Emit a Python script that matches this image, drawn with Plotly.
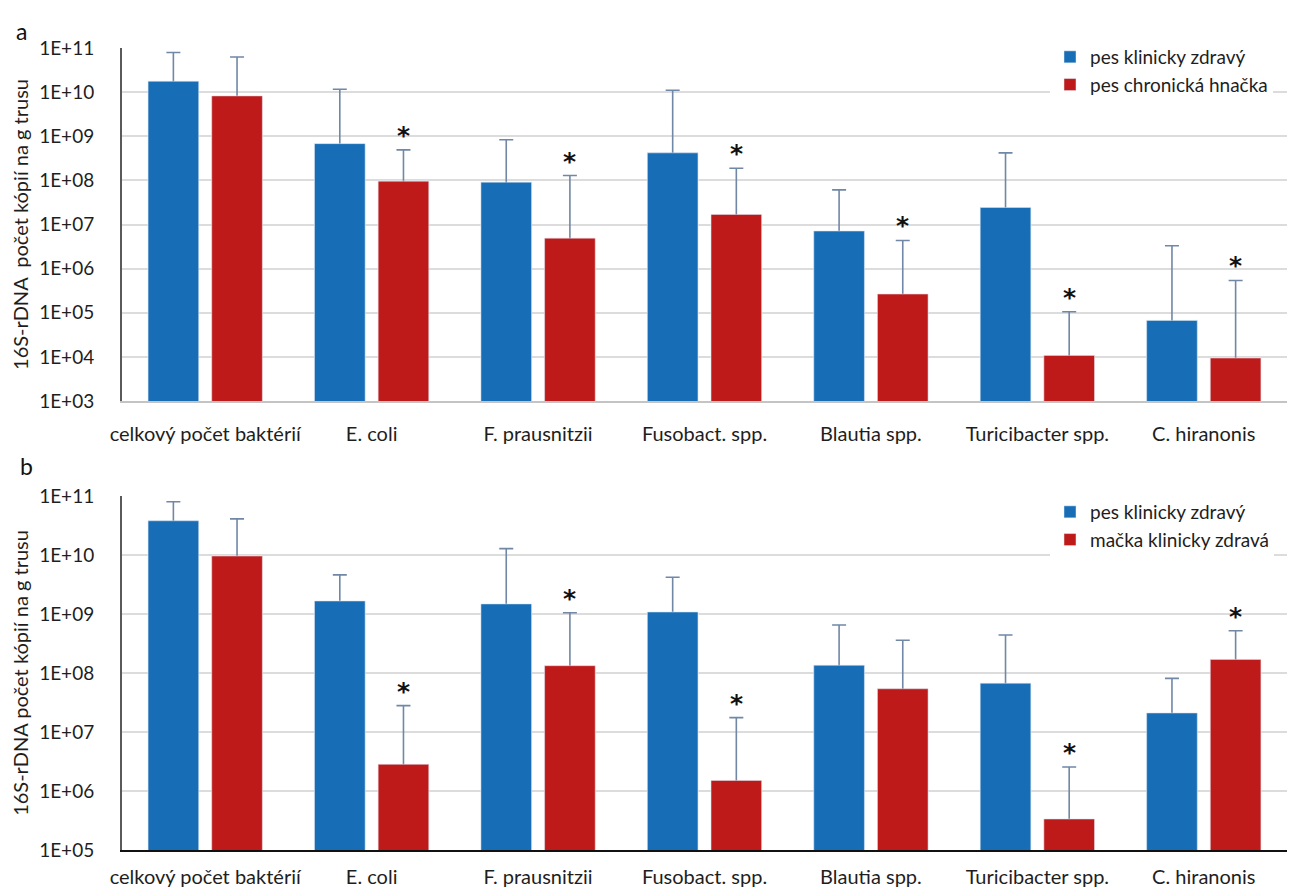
import plotly.graph_objects as go
import numpy as np

categories = ["celkový počet baktérií", "E. coli", "F. prausnitzii", "Fusobact. spp.",
              "Blautia spp.", "Turicibacter spp.", "C. hiranonis"]

# Panel a
a_dog_healthy = [1.76e10, 6.8e8, 9.1e7, 4.2e8, 7.1e6, 2.43e7, 6.7e4]
a_dog_healthy_errtop = [7.9e10, 1.16e10, 8.3e8, 1.1e10, 6.1e7, 4.2e8, 3.3e6]
a_dog_diarrhea = [8.2e9, 9.6e7, 4.9e6, 1.69e7, 2.65e5, 1.08e4, 9.4e3]
a_dog_diarrhea_errtop = [6.25e10, 4.9e8, 1.29e8, 1.89e8, 4.35e6, 1.05e5, 5.4e5]
a_significant = [False, True, True, True, True, True, True]

# Panel b
b_dog_healthy = [3.8e10, 1.66e9, 1.48e9, 1.08e9, 1.35e8, 6.7e7, 2.1e7]
b_dog_healthy_errtop = [8.0e10, 4.6e9, 1.28e10, 4.2e9, 6.5e8, 4.4e8, 8.1e7]
b_cat_healthy = [9.6e9, 2.83e6, 1.33e8, 1.51e6, 5.4e7, 3.35e5, 1.7e8]
b_cat_healthy_errtop = [4.1e10, 2.8e7, 1.05e9, 1.75e7, 3.6e8, 2.55e6, 5.2e8]
b_significant = [False, True, True, True, False, True, True]

a_ticks = [1e3, 1e4, 1e5, 1e6, 1e7, 1e8, 1e9, 1e10, 1e11]
b_ticks = [1e5, 1e6, 1e7, 1e8, 1e9, 1e10, 1e11]

a_ytitle = "16S-rDNA  počet kópií na g trusu"
b_ytitle = "16S-rDNA počet kópií na g trusu"

BLUE = "#176db6"
RED = "#be1a1a"
ERR = "#7088a6"
FONT = "Lato"
TXT = "#1e1e1e"
BARGAP = 0.235

def tick_text(vals):
    return ["1E+%02d" % int(round(np.log10(v))) for v in vals]

def err(vals, tops):
    # upward error bar; the lower "shoe" sits just inside the bar and is hidden by it
    return dict(type="data", symmetric=False,
                array=[t - v for v, t in zip(vals, tops)],
                arrayminus=[v * 0.12 for v in vals],
                color=ERR, thickness=1.6, width=7)

fig = go.Figure()

series = [
    (a_dog_healthy, a_dog_healthy_errtop, "pes klinicky zdravý", BLUE, "x", "y", "x3", "y3", "legend"),
    (a_dog_diarrhea, a_dog_diarrhea_errtop, "pes chronická hnačka", RED, "x", "y", "x3", "y3", "legend"),
    (b_dog_healthy, b_dog_healthy_errtop, "pes klinicky zdravý", BLUE, "x2", "y2", "x4", "y4", "legend2"),
    (b_cat_healthy, b_cat_healthy_errtop, "mačka klinicky zdravá", RED, "x2", "y2", "x4", "y4", "legend2"),
]
# error bars on the base axes (drawn underneath)
for vals, tops, name, col, xa, ya, xo, yo, lg in series:
    fig.add_trace(go.Bar(x=categories, y=vals, name=name, marker_color="rgba(0,0,0,0)",
                         error_y=err(vals, tops), xaxis=xa, yaxis=ya, showlegend=False,
                         hoverinfo="skip"))
# opaque bars on overlaying axes (drawn on top)
for vals, tops, name, col, xa, ya, xo, yo, lg in series:
    fig.add_trace(go.Bar(x=categories, y=vals, name=name, marker_color=col,
                         xaxis=xo, yaxis=yo, legend=lg))

OFF = 8  # page body margin
W, H = 1301 - OFF, 890 - OFF
L = 122 - OFF
R = W - (1287 - OFF)
PW = W - L - R

def py(screen_y):
    return 1 - (screen_y - OFF) / H

def px(screen_x):
    return (screen_x - OFF - L) / PW

top_dom = [py(401), py(48)]
bot_dom = [py(850), py(496)]

def ytitle(t):
    return dict(text=t, font=dict(family=FONT, size=20, color=TXT), standoff=10)

common_y = dict(type="log", showgrid=True, gridcolor="#dcdcdc", gridwidth=1.6,
                showline=True, linecolor="#5a5a5a", linewidth=2, ticks="",
                tickfont=dict(family=FONT, size=19, color=TXT), zeroline=False,
                ticklabelstandoff=22, automargin=False)
common_x = dict(type="category", showgrid=False, ticks="",
                tickfont=dict(family=FONT, size=20, color=TXT), showline=True,
                automargin=False)
hidden = dict(showgrid=False, showline=False, showticklabels=False, ticks="",
              zeroline=False, automargin=False)

layout = dict(
    width=W, height=H, plot_bgcolor="white", paper_bgcolor="white",
    margin=dict(l=L, r=R, t=0, b=0, autoexpand=False),
    barmode="group", bargap=BARGAP, bargroupgap=0.205,
    xaxis=dict(**common_x, domain=[0, 1], anchor="y", linecolor="#c4c4c4", linewidth=2,
               ticklabelstandoff=14),
    yaxis=dict(**common_y, domain=top_dom, anchor="x", range=[3, 11],
               tickvals=a_ticks, ticktext=tick_text(a_ticks), title=ytitle(a_ytitle)),
    xaxis2=dict(**common_x, domain=[0, 1], anchor="y2", linecolor="#111111", linewidth=2,
                ticklabelstandoff=8),
    yaxis2=dict(**common_y, domain=bot_dom, anchor="x2", range=[5, 11],
                tickvals=b_ticks, ticktext=tick_text(b_ticks), title=ytitle(b_ytitle)),
    xaxis3=dict(**hidden, type="category", overlaying="x", anchor="y3", matches="x"),
    yaxis3=dict(**hidden, type="log", overlaying="y", anchor="x3", range=[3, 11]),
    xaxis4=dict(**hidden, type="category", overlaying="x2", anchor="y4", matches="x2"),
    yaxis4=dict(**hidden, type="log", overlaying="y2", anchor="x4", range=[5, 11]),
    legend=dict(x=px(1050), y=py(38), xanchor="left", yanchor="top",
                bgcolor="white", font=dict(family=FONT, size=19, color=TXT),
                itemwidth=30, tracegroupgap=0),
    legend2=dict(x=px(1050), y=py(493), xanchor="left", yanchor="top",
                 bgcolor="white", font=dict(family=FONT, size=19, color=TXT),
                 itemwidth=30, tracegroupgap=0),
    showlegend=True,
)
fig.update_layout(**layout)

# significance stars above the red bars' error bars
red_offset = (1 - BARGAP) / 4
annotations = []
for sig, tops, xr, yr in [(a_significant, a_dog_diarrhea_errtop, "x", "y"),
                          (b_significant, b_cat_healthy_errtop, "x2", "y2")]:
    for i, (s, t) in enumerate(zip(sig, tops)):
        if s:
            annotations.append(dict(x=i + red_offset, y=np.log10(t), xref=xr, yref=yr,
                                    text="<b>*</b>", showarrow=False, yanchor="bottom", yshift=-2,
                                    font=dict(family="DejaVu Sans", size=25, color="#111111")))

annotations.append(dict(x=px(14), y=py(15), xref="paper", yref="paper",
                        text="a", showarrow=False, font=dict(family=FONT, size=23, color="#111111")))
annotations.append(dict(x=px(18), y=py(466), xref="paper", yref="paper",
                        text="b", showarrow=False, font=dict(family=FONT, size=23, color="#111111")))
fig.update_layout(annotations=annotations)

fig.write_html("out.html")
